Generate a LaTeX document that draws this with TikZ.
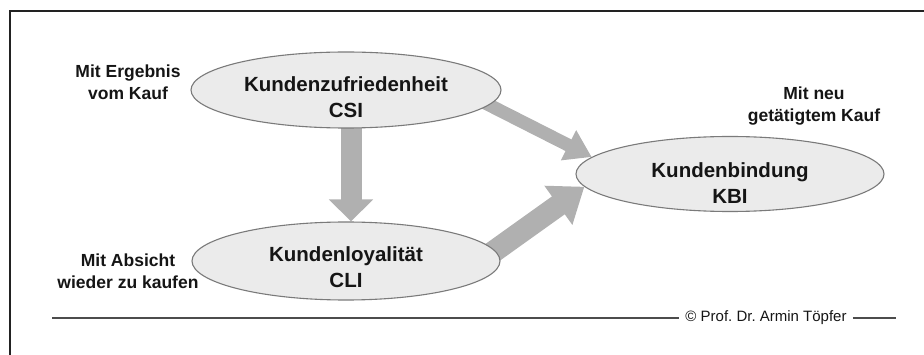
\documentclass[tikz,border=0pt]{standalone}
\usepackage{fontspec}
\setmainfont{Liberation Sans}
\usetikzlibrary{arrows.meta,shapes.geometric,backgrounds,calc}
\definecolor{ellfill}{HTML}{EBEBEB}
\definecolor{ellline}{HTML}{7A7A7A}
\definecolor{arrgray}{HTML}{B0B0B0}
\definecolor{framecol}{HTML}{222222}
\definecolor{txt}{HTML}{151515}
\frenchspacing
\begin{document}
\begin{tikzpicture}[x=1pt,y=-1pt,
  ell/.style={ellipse, draw=ellline, fill=ellfill, line width=1.1pt, inner sep=0pt},
  maintext/.style={font=\fontsize{20.5}{26}\selectfont\bfseries, align=center, inner sep=0pt, text=txt},
  side/.style={font=\fontsize{17.5}{21.5}\selectfont\bfseries, align=center, inner sep=0pt, text=txt},
  foot/.style={font=\fontsize{15}{18}\selectfont, inner sep=6pt, text=txt},
  blk/.style={draw=arrgray, line width=#1},
  rule/.style={draw=black!70, line width=1.3pt},
]
\useasboundingbox (0,0) rectangle (924,355);
% frame
\draw[framecol, line width=2pt] (10,356) -- (10,11) -- (925,11);

% ellipses
\node[ell, minimum width=310pt, minimum height=76pt] (csi) at (346,90) {};
\node[ell, minimum width=308pt, minimum height=78pt] (cli) at (346,261) {};
\node[ell, minimum width=308pt, minimum height=75pt] (kbi) at (730,174) {};

\node[maintext] (csit) at (346,97) {Kundenzufriedenheit\\CSI};
\node[maintext] (clit) at (346,267) {Kundenloyalität\\CLI};
\node[maintext] (kbit) at (730,183) {Kundenbindung\\KBI};

% side labels
\node[side] (l1) at (128,82) {Mit Ergebnis\\vom Kauf};
\node[side] (l2) at (128,271) {Mit Absicht\\wieder zu kaufen};
\node[side] (l3) at (814,106) {Mit neu\\getätigtem Kauf};

% arrows behind the ellipses
\begin{pgfonlayer}{background}
\draw[blk=21pt, -{Triangle[width=43pt,length=22pt]}]
  ([xshift=5pt,yshift=6pt]csi.south) -- ([xshift=5pt]cli.north);
\draw[blk=13pt, -{Triangle[width=32pt,length=26pt]}]
  ($(csi.-6)!-15pt!(kbi.173.5)$) -- (kbi.173.5);
\draw[blk=22pt, -{Triangle[width=46pt,length=32pt]}]
  ($(cli.4)!-15pt!(kbi.185)$) -- (kbi.185);
\end{pgfonlayer}

% footer
\node[foot] (ft) at (766,318) {© Prof. Dr. Armin Töpfer};
\coordinate (fl) at (52,318);
\coordinate (fr) at (896,318);
\draw[rule] (fl) -- (ft.west);
\draw[rule] (ft.east) -- (fr);
\end{tikzpicture}
\end{document}
